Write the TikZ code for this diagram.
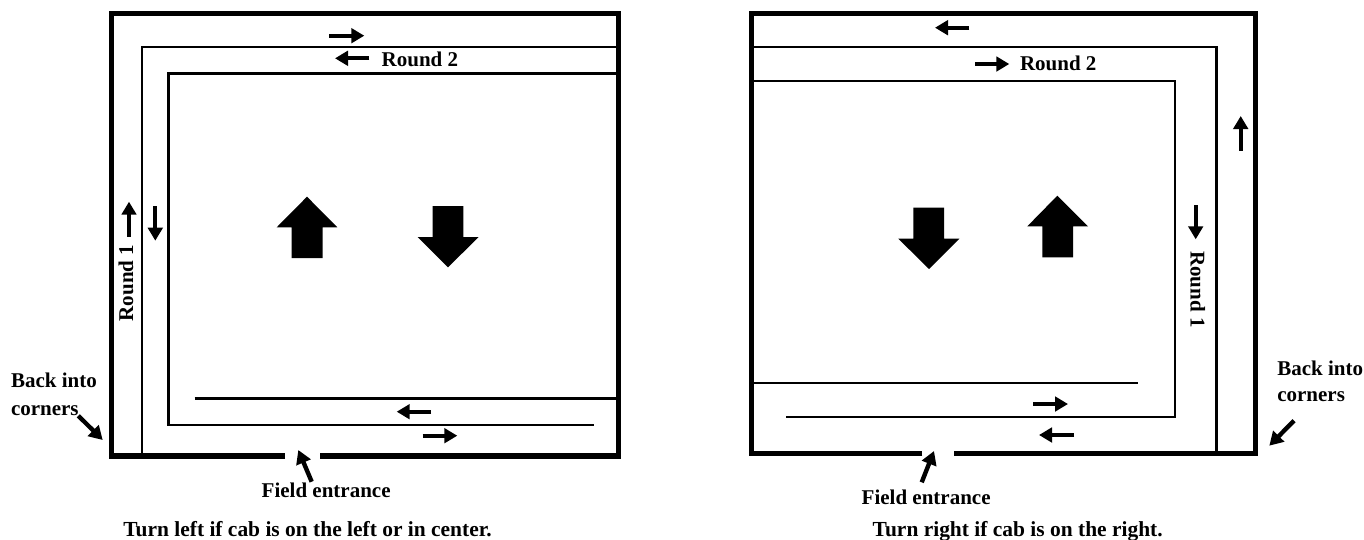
\documentclass[tikz,border=0pt]{standalone}
\usepackage{fontspec}
\setmainfont{Liberation Serif}
\usetikzlibrary{arrows.meta}
\tikzset{
  wall/.style={line width=5.3pt,miter limit=10},
  lane/.style={line width=2.6pt},
  smallarrow/.style={line width=4.2pt,-{Triangle[length=13pt,width=14.5pt]}},
  callout/.style={line width=4.4pt,-{Triangle[length=13.5pt,width=15pt]}},
  bigarrow/.style={fill=black,draw=none},
  lbl/.style={anchor=base west,inner sep=0pt,outer sep=0pt,font=\fontsize{21}{27}\selectfont\bfseries},
  turnlbl/.style={anchor=base west,inner sep=0pt,outer sep=0pt,font=\fontsize{21.45}{27}\selectfont\bfseries},
  rlbl/.style={anchor=base,inner sep=0pt,outer sep=0pt,font=\fontsize{21}{27}\selectfont\bfseries}
}
\begin{document}
\begin{tikzpicture}[x=1pt,y=-1pt]
\useasboundingbox (0,0) rectangle (1364,539);
% ---------- left field ----------
\draw[wall] (285,456) -- (111.7,456) -- (111.7,13.7) -- (618.3,13.7) -- (618.3,456) -- (320,456);
\draw[lane] (616,47) -- (142,47) -- (142,456);
\draw[lane] (616,73.5) -- (168.7,73.5) -- (168.7,425) -- (594,425);
\draw[lane] (194.5,398.7) -- (616,398.7);
\draw[smallarrow] (329.3,35.7) -- (364.3,35.7);
\draw[smallarrow] (369.3,58.3) -- (335,58.3);
\draw[smallarrow] (129,236.7) -- (129,201.7);
\draw[smallarrow] (155.3,206) -- (155.3,240.7);
\draw[smallarrow] (431,411.7) -- (396.7,411.7);
\draw[smallarrow] (422.7,435.7) -- (457.3,435.7);
\fill[bigarrow] (307,196.7) -- (337.3,227.3) -- (322.7,227.3) -- (322.7,258) -- (291.7,258) -- (291.7,227.3) -- (276.7,227.3) -- cycle;
\fill[bigarrow] (432.7,206) -- (463.3,206) -- (463.3,237) -- (478.7,237) -- (448,267.3) -- (417.7,237) -- (432.7,237) -- cycle;
\node[lbl] (lround2) at (381.7,66.7) {Round 2};
\node[rlbl,rotate=90] (lround1) at (133,283) {Round 1};
\node[lbl] (lback1) at (11,387.7) {Back into};
\node[lbl] (lback2) at (11,415) {corners};
\node[lbl] (lfield) at (261.7,497.3) {Field entrance};
\node[turnlbl] (lturn) at (123.3,536.7) {Turn left if cab is on the left or in center.};
\coordinate (lbacktail) at (78.3,415.7);
\coordinate (lbacktip) at (102.7,440);
\coordinate (lfieldtail) at (311.7,481.7);
\coordinate (lfieldtip) at (298.3,450);
\draw[callout] (lbacktail) -- (lbacktip);
\draw[callout] (lfieldtail) -- (lfieldtip);
% ---------- right field ----------
\draw[wall] (922.3,453.5) -- (751.7,453.5) -- (751.7,13.7) -- (1255.8,13.7) -- (1255.8,453.5) -- (954,453.5);
\draw[lane] (753,47) -- (1216.7,47) -- (1216.7,453.5);
\draw[lane] (753,81) -- (1175,81) -- (1175,417) -- (786,417);
\draw[lane] (753,383) -- (1138.3,383);
\draw[smallarrow] (969.3,27.7) -- (935,27.7);
\draw[smallarrow] (975,64) -- (1009.3,64);
\draw[smallarrow] (1240.7,150.7) -- (1240.7,116);
\draw[smallarrow] (1195.7,205) -- (1195.7,239.3);
\draw[smallarrow] (1033.3,404) -- (1068,404);
\draw[smallarrow] (1074,435) -- (1039,435);
\fill[bigarrow] (913.3,207.7) -- (944,207.7) -- (944,238.7) -- (959.3,238.7) -- (929,269) -- (898.3,238.7) -- (913.3,238.7) -- cycle;
\fill[bigarrow] (1057.3,195.7) -- (1088,226.3) -- (1073,226.3) -- (1073,257.3) -- (1042.3,257.3) -- (1042.3,226.3) -- (1027.3,226.3) -- cycle;
\node[lbl] (rround2) at (1020,70.7) {Round 2};
\node[rlbl,rotate=-90] (rround1) at (1190.7,289.5) {Round 1};
\node[lbl] (rback1) at (1277.3,375) {Back into};
\node[lbl] (rback2) at (1277.3,401) {corners};
\node[lbl] (rfield) at (861.7,504.3) {Field entrance};
\node[turnlbl] (rturn) at (872.7,536.7) {Turn right if cab is on the right.};
\coordinate (rbacktail) at (1294,420.7);
\coordinate (rbacktip) at (1269.3,445.7);
\coordinate (rfieldtail) at (921.7,482.3);
\coordinate (rfieldtip) at (934,451);
\draw[callout] (rbacktail) -- (rbacktip);
\draw[callout] (rfieldtail) -- (rfieldtip);
\end{tikzpicture}
\end{document}
